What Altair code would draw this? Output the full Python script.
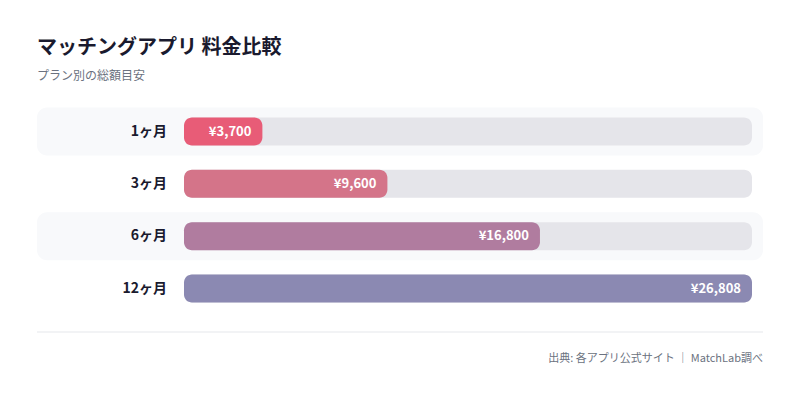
import altair as alt
import pandas as pd

title = "マッチングアプリ 料金比較"
subtitle = "プラン別の総額目安"
footer = "出典: 各アプリ公式サイト ｜ MatchLab調べ"

plans = ["1ヶ月", "3ヶ月", "6ヶ月", "12ヶ月"]
prices = [3700, 9600, 16800, 26808]
bar_colors = ["#E85C77", "#D47489", "#B07C9F", "#8B89B2"]
max_price = 26808

FONT = "Noto Sans CJK JP"

df = pd.DataFrame({
    "plan": plans,
    "price": prices,
    "color": bar_colors,
    "idx": list(range(len(plans))),
})
df["label"] = ["¥{:,}".format(p) for p in prices]
df["zero"] = 0
df["maxv"] = max_price

xs = alt.Scale(domain=[0, max_price], range=[176, 744], padding=0, nice=False, zero=False)
ys = alt.Scale(domain=[0, 3], range=[123.5, 280.5], padding=0, nice=False, zero=False)

base = alt.Chart(df)

row_bg = base.transform_filter("datum.idx % 2 == 0").mark_bar(
    height=48, cornerRadius=10, color="#F8F9FB"
).encode(
    x=alt.value(29), x2=alt.value(755),
    y=alt.Y("idx:Q", scale=ys, axis=None),
)

track = base.mark_bar(height=28, cornerRadius=8, color="#E5E5EA").encode(
    x=alt.X("zero:Q", scale=xs, axis=None), x2="maxv:Q",
    y=alt.Y("idx:Q", scale=ys, axis=None),
)

bars = base.mark_bar(height=28, cornerRadius=8).encode(
    x=alt.X("zero:Q", scale=xs, axis=None), x2="price:Q",
    y=alt.Y("idx:Q", scale=ys, axis=None),
    color=alt.Color("color:N", scale=None),
)

values = base.mark_text(
    align="right", baseline="middle", dx=-11, font=FONT, fontSize=13,
    fontWeight="bold", color="white"
).encode(
    x=alt.X("price:Q", scale=xs, axis=None),
    y=alt.Y("idx:Q", scale=ys, axis=None),
    text="label:N",
)

labels = base.mark_text(
    align="right", baseline="middle", font=FONT, fontSize=14,
    fontWeight="bold", color="#1A1A2E"
).encode(
    x=alt.value(159),
    y=alt.Y("idx:Q", scale=ys, axis=None),
    text="plan:N",
)

tdf = pd.DataFrame({"t": [title], "s": [subtitle], "f": [footer]})
tbase = alt.Chart(tdf)
title_mark = tbase.mark_text(
    align="left", baseline="middle", font=FONT, fontSize=20,
    fontWeight="bold", color="#1A1A2E"
).encode(x=alt.value(29), y=alt.value(40), text="t:N")
sub_mark = tbase.mark_text(
    align="left", baseline="middle", font=FONT, fontSize=12, color="#6B7280"
).encode(x=alt.value(29), y=alt.value(68), text="s:N")
foot_mark = tbase.mark_text(
    align="right", baseline="middle", font=FONT, fontSize=11, color="#6B7280"
).encode(x=alt.value(755), y=alt.value(351), text="f:N")
sep = tbase.mark_rule(color="#E5E7EB", strokeWidth=1).encode(
    x=alt.value(29), x2=alt.value(755), y=alt.value(324)
)

chart = alt.layer(
    row_bg, track, bars, values, labels, title_mark, sub_mark, sep, foot_mark
).properties(
    width=784, height=385, padding=0,
    autosize=alt.AutoSizeParams(type="none"),
    background="white",
).configure_view(stroke=None)

chart.save("out.html", embed_options={"renderer": "svg", "actions": False})
